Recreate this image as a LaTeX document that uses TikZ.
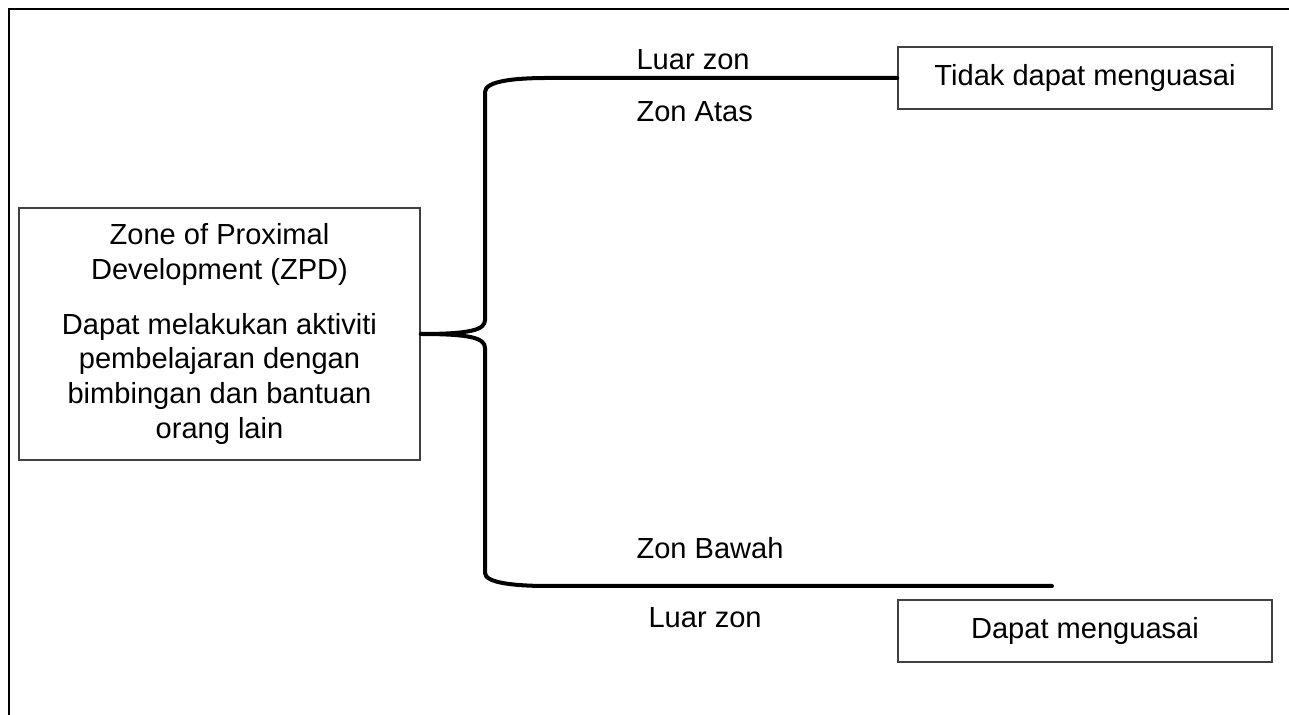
\documentclass[tikz,border=0pt]{standalone}
\usepackage{fontspec}
\setmainfont{Liberation Sans}
\usetikzlibrary{positioning}

\begin{document}
\begin{tikzpicture}[x=0.375pt,y=-0.375pt,
  box/.style={draw=black!75,line width=0.55pt,align=center,inner sep=0pt},
  brace/.style={line width=1.5pt,line cap=round},
  lbl/.style={anchor=west,inner sep=0pt},
  every node/.style={font=\fontsize{10.9}{13}\selectfont}]
\useasboundingbox (0,0) rectangle (1289,715);
\draw[line width=1.1pt] (9,716)--(9,9)--(1290,9);

\node[box,minimum width=150.4pt,minimum height=94.5pt] (zpd) at (219.5,334)
  {Zone of Proximal\\Development (ZPD)\\[7.6pt]Dapat melakukan aktiviti\\pembelajaran dengan\\bimbingan dan bantuan\\orang lain};
\node[box,minimum width=140.25pt,minimum height=23.25pt] (tidak) at (1085,78) {Tidak dapat menguasai};
\node[box,minimum width=140.25pt,minimum height=23.25pt] (dapat) at (1085,631) {Dapat menguasai};
\coordinate (lowend) at (1052,586);

% brace
\draw[brace] (zpd.east) .. controls (470,334) and (485,330) .. (485,320) -- (485,92)
  .. controls (485,81) and (515,78) .. (547,78) -- (tidak.west);
\draw[brace] (zpd.east) .. controls (470,334) and (485,338) .. (485,348) -- (485,573)
  .. controls (485,583) and (515,586) .. (548,586) -- (lowend);

\node[lbl] (luaratas) at (636,60) {Luar zon};
\node[lbl] (atas) at (636,112) {Zon Atas};
\node[lbl] (bawah) at (636,548) {Zon Bawah};
\node[lbl] (luarbawah) at (648,618) {Luar zon};
\end{tikzpicture}
\end{document}
